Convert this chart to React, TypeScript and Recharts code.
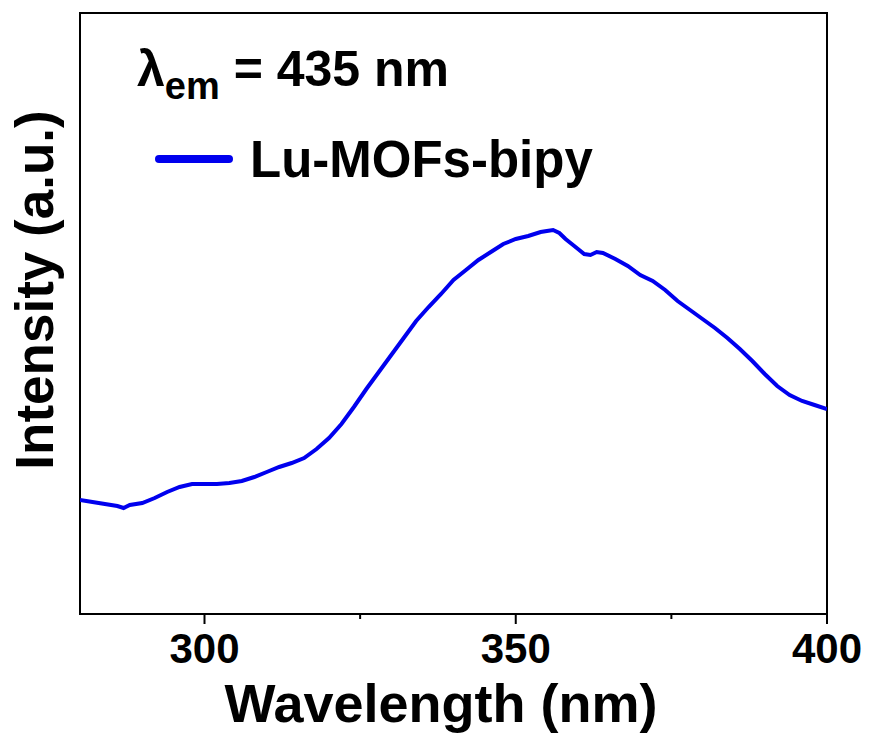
import { LineChart, Line, XAxis, YAxis, ReferenceArea, Customized } from 'recharts';

// excitation spectrum, intensity in arbitrary units
const wavelengths = [
  280, 282, 284, 286, 287, 288, 290, 292, 294, 296, 298, 300, 302, 304, 306, 308, 310, 312, 314, 316,
  318, 320, 322, 324, 326, 328, 330, 332, 334, 336, 338, 340, 342, 344, 346, 348, 350, 352, 354, 355,
  356, 357, 358, 359, 360, 361, 362, 363, 364, 366, 368, 370, 372, 374, 376, 378, 380, 382, 384, 386,
  388, 390, 392, 394, 396, 398, 400,
];
const intensity = [
  114, 112, 110, 108, 106, 109, 111, 116, 122, 127, 130, 130, 130, 131, 133, 137, 142, 147, 151, 156,
  165, 176, 190, 207, 225, 242, 259, 276, 293, 307, 320, 334, 344, 354, 362, 370, 375, 378, 382, 383,
  384, 381, 375, 370, 365, 360, 359, 362, 361, 355, 348, 339, 333, 324, 313, 304, 295, 286, 276, 265,
  253, 240, 228, 219, 213, 209, 205,
];
const xTicks = [300, 325, 350, 375, 400];
const seriesName = 'Lu-MOFs-bipy';

const data = wavelengths.map((w, i) => ({ w, v: intensity[i] }));

const FONT = '"Liberation Sans", Arial, sans-serif';

const XTick = (props: any) => {
  const { x, y, payload } = props;
  const major = payload.value % 50 === 0;
  return (
    <g>
      <line x1={x} x2={x} y1={y} y2={y + (major ? 10 : 5)} stroke="#000" strokeWidth={2} />
      {major && (
        <text x={x} y={y + 49} textAnchor="middle" fontFamily={FONT} fontWeight="bold" fontSize={42} fill="#000">
          {payload.value}
        </text>
      )}
    </g>
  );
};

const Overlay = () => (
  <g fontFamily={FONT} fontWeight="bold" fill="#000">
    <text x={137} y={86} fontSize={50}>
      λ<tspan fontSize={38} dy={13}>em</tspan>
      <tspan dy={-13}> = 435 nm</tspan>
    </text>
    <line x1={159} x2={229} y1={159} y2={159} stroke="#0000ee" strokeWidth={8} strokeLinecap="round" />
    <text x={250} y={177} fontSize={51}>{seriesName}</text>
    <text x={441} y={722} fontSize={54} textAnchor="middle">Wavelength (nm)</text>
    <text x={53} y={290} fontSize={53} textAnchor="middle" transform="rotate(-90, 53, 290)">
      Intensity (a.u.)
    </text>
  </g>
);

export default function App() {
  return (
    <div style={{ position: 'absolute', left: 0, top: 0, background: '#fff' }}>
      <LineChart width={869} height={734} data={data} margin={{ top: 13, right: 42, left: 80, bottom: 0 }}>
        <XAxis
          dataKey="w"
          type="number"
          domain={[280, 400]}
          ticks={xTicks}
          allowDataOverflow
          height={120}
          tickSize={0}
          tickMargin={0}
          tickLine={false}
          axisLine={{ stroke: '#000', strokeWidth: 2 }}
          tick={<XTick />}
        />
        <YAxis type="number" domain={[0, 601]} width={0} hide />
        {/* frame around the plot */}
        <ReferenceArea x1={280} x2={400} y1={0} y2={601} fill="none" stroke="#000" strokeWidth={2} ifOverflow="visible" />
        <Line
          type="linear"
          dataKey="v"
          name={seriesName}
          stroke="#0000ee"
          strokeWidth={4}
          dot={false}
          isAnimationActive={false}
        />
        <Customized component={Overlay} />
      </LineChart>
    </div>
  );
}
